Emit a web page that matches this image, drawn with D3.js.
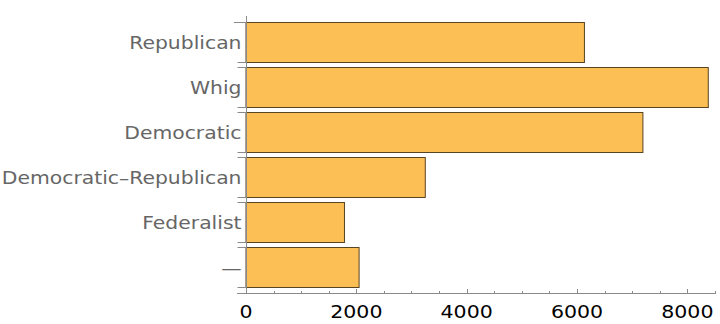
<!DOCTYPE html>
<html>
<head>
<meta charset="utf-8">
<script src="https://cdn.jsdelivr.net/npm/d3@7"></script>
<style>
  body { margin: 0; background: #fff; }
  text { font-family: "DejaVu Sans", sans-serif; }
</style>
</head>
<body>
<svg id="chart" width="720" height="324"></svg>
<script>
const parties = ["Republican", "Whig", "Democratic", "Democratic\u2013Republican", "Federalist", "\u2014"];
const counts = [6135, 8380, 7195, 3250, 1785, 2050];
const xTicks = [0, 2000, 4000, 6000, 8000];

const svg = d3.select("#chart");

// x scale: 0 sits on the frame line, axis runs a bit past 8000
const x = d3.scaleLinear().domain([0, 8520]).range([246, 716]);
const y = d3.scaleBand().domain(parties).range([19.5, 289.5])
    .paddingInner(1 / 9).paddingOuter(1 / 18);

const axisColor = "#8a8a8a";
const axisY = 293.5;

// bars
svg.append("g").selectAll("rect")
    .data(parties)
    .enter()
    .append("rect")
    .attr("x", x(0))
    .attr("y", (d) => y(d) + 0.5)
    .attr("width", (d, i) => x(counts[i]) - x(0))
    .attr("height", y.bandwidth())
    .attr("fill", "#fbbf56")
    .attr("stroke", "#5a4320")
    .attr("stroke-width", 1);

// bottom axis, minor ticks every 500
const minor = d3.range(0, 8501, 500).filter(v => v % 2000 !== 0);
const xg = svg.append("g");
xg.append("line")
    .attr("x1", 237).attr("x2", 716)
    .attr("y1", axisY).attr("y2", axisY)
    .attr("stroke", axisColor);
xg.selectAll(".minor").data(minor).enter().append("line")
    .attr("x1", d => Math.round(x(d)) + 0.5).attr("x2", d => Math.round(x(d)) + 0.5)
    .attr("y1", axisY).attr("y2", axisY - 2.5)
    .attr("stroke", axisColor);
xg.selectAll(".major").data(xTicks).enter().append("line")
    .attr("x1", d => Math.round(x(d)) + 0.5).attr("x2", d => Math.round(x(d)) + 0.5)
    .attr("y1", axisY).attr("y2", axisY - 4.5)
    .attr("stroke", axisColor);
// the reference text is a little stretched sideways
xg.selectAll("text").data(xTicks).enter().append("text")
    .attr("transform", d => `translate(${x(d)},318) scale(1.14,1)`)
    .attr("text-anchor", "middle")
    .attr("font-size", 18)
    .attr("fill", "#000")
    .text(d => d);

// left axis with ticks at the edges of each bar
const yg = svg.append("g");
yg.append("line")
    .attr("x1", 246.5).attr("x2", 246.5)
    .attr("y1", 16).attr("y2", axisY)
    .attr("stroke", axisColor);
const edges = [];
parties.forEach(p => { edges.push(y(p)); edges.push(y(p) + y.bandwidth()); });
yg.selectAll(".edge").data(edges).enter().append("line")
    .attr("x1", (d, i) => i === 0 ? 234 : 237.5).attr("x2", 246.5)
    .attr("y1", d => Math.round(d) + 0.5).attr("y2", d => Math.round(d) + 0.5)
    .attr("stroke", axisColor);

yg.selectAll("text").data(parties).enter().append("text")
    .attr("transform", d => `translate(241.5,${y(d) + y.bandwidth() / 2 + 7}) scale(1.1,1)`)
    .attr("text-anchor", "end")
    .attr("font-size", 18.5)
    .attr("fill", "#666")
    .text(d => d);
</script>
</body>
</html>
